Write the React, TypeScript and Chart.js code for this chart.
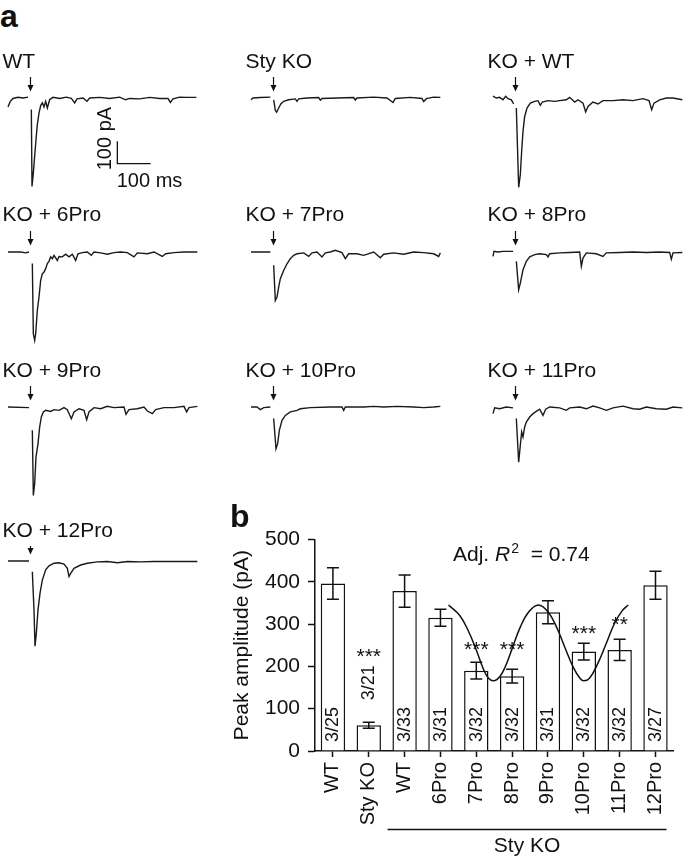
import React, { useEffect, useRef } from "react";
import { Chart, registerables } from "chart.js";
Chart.register(...registerables);

const FONT = "'Liberation Sans', Arial, Helvetica, sans-serif";
Chart.defaults.font.family = FONT;
Chart.defaults.color = "#111";

// ---------- Panel a: whole-cell currents (time in ms, current in pA; null = removed stimulus artifact)
const stimulusMs = 66;
const scaleBarMs = 328; // left end of the 100 ms / 100 pA scale bar (WT panel)
const scaleBarPa = -295; // corner current of the scale bar

const traceWT: [number, number | null][] = [
  [0, -40], [7, -15], [15, -2], [30, 3], [45, 0], [60, 4], [65, null],
  [70, -52], [72, -398], [76, -338], [80, -262], [84, -188], [88, -120], [93, -68], [98, -34],
  [103, -22], [108, -40], [113, -15], [118, -45], [125, -8], [135, 3], [155, -2], [175, 4],
  [190, -2], [200, -22], [207, -4], [225, 0], [237, -15], [245, 0], [275, 3], [305, -2],
  [335, 4], [353, -8], [365, -2], [395, -4], [425, 3], [455, -2], [480, -2], [487, -20],
  [495, -4], [515, 4], [535, 3], [565, 3],
];
const traceStyKO: [number, number | null][] = [
  [0, -8], [6, 0], [28, 2], [58, 4], [63, null],
  [68, -8], [73, -56], [77, -64], [83, -45], [90, -26], [98, -15], [113, -8], [133, -4],
  [138, -15], [143, -4], [168, 0], [203, 2], [208, -10], [213, -2], [258, 0], [308, 2],
  [313, -9], [318, 0], [368, 4], [408, 0], [426, -20], [433, -2], [478, 3], [513, -2],
  [518, -16], [526, -3], [548, 4], [568, 3],
];
const traceKOWT: [number, number | null][] = [
  [0, 8], [10, 0], [20, 3], [30, -8], [38, 8], [45, -3], [55, -8], [62, -26], [66, null],
  [70, -45], [77, -402], [82, -345], [86, -240], [90, -150], [95, -83], [102, -45], [112, -23],
  [125, -15], [135, -12], [142, -33], [148, -18], [165, -12], [185, -15], [200, -12], [220, -8],
  [230, 3], [245, -18], [255, -8], [270, -23], [278, -63], [285, -38], [300, -18], [315, -27],
  [330, -12], [360, -12], [390, -8], [420, -12], [450, -3], [468, -12], [476, -53], [483, -23],
  [500, -8], [520, 0], [540, 0], [568, -8],
];
const trace6Pro: [number, number | null][] = [
  [0, 0], [38, 0], [53, -4], [63, 0], [68, null],
  [73, -52], [76, -368], [80, -398], [83, -368], [88, -262], [93, -202], [98, -128], [103, -98],
  [108, -90], [113, -75], [118, -52], [123, -42], [128, -22], [133, -30], [138, -15], [148, -38],
  [153, -20], [163, -22], [173, -10], [183, -22], [193, -10], [203, -38], [210, -8], [223, -3],
  [238, 0], [250, -15], [258, 0], [278, -4], [298, -10], [318, -3], [338, 0], [358, -3],
  [378, -22], [388, -4], [418, -8], [438, 0], [463, -20], [473, -8], [498, -3], [528, 0], [568, 0],
];
const trace7Pro: [number, number | null][] = [
  [0, 0], [58, 0], [63, null],
  [68, -60], [73, -218], [78, -203], [83, -158], [88, -120], [98, -83], [108, -53], [118, -30],
  [128, -15], [138, -8], [158, -4], [173, -20], [183, -4], [198, 0], [213, -22], [223, -4],
  [238, 0], [253, 8], [273, -3], [283, -30], [293, -8], [318, -8], [338, -15], [368, 0],
  [388, -26], [398, -10], [428, -4], [458, -10], [488, 0], [518, -3], [548, -8], [563, -20], [568, -4],
];
const trace8Pro: [number, number | null][] = [
  [0, -20], [3, 3], [15, 0], [30, 3], [60, 3], [65, null],
  [70, -42], [77, -170], [82, -140], [90, -80], [100, -42], [110, -22], [125, -12], [140, -8],
  [160, -12], [165, -22], [170, -8], [200, -4], [230, -2], [260, 0], [265, -64], [270, -27],
  [280, -4], [310, -8], [330, -20], [340, -4], [380, -2], [420, 0], [460, -2], [500, 0],
  [530, -2], [535, -32], [540, -4], [568, -2],
];
const trace9Pro: [number, number | null][] = [
  [0, 0], [63, -3], [68, null],
  [73, -105], [76, -398], [80, -345], [84, -225], [90, -165], [95, -90], [100, -45], [106, -22],
  [113, -15], [128, -20], [138, -12], [153, -15], [168, -3], [178, -12], [190, -53], [198, -22],
  [213, -8], [228, -15], [236, -57], [243, -22], [258, -3], [278, -8], [298, 3], [318, -3],
  [348, 0], [354, -33], [363, -12], [388, -8], [408, 0], [418, -18], [433, -30], [443, -12],
  [468, -3], [498, -3], [528, 3], [536, -22], [543, -3], [568, 3],
];
const trace10Pro: [number, number | null][] = [
  [0, 0], [18, 0], [28, -12], [38, -3], [58, 0], [63, null],
  [68, -52], [75, -188], [80, -165], [85, -105], [93, -60], [103, -38], [118, -22], [138, -15],
  [148, -8], [178, -3], [238, 0], [273, 0], [278, -15], [283, 0], [338, 0], [368, 3],
  [398, 0], [438, 3], [488, 0], [518, -3], [548, 0], [568, 3],
];
const trace11Pro: [number, number | null][] = [
  [0, -30], [5, -4], [20, -8], [40, 0], [60, -4], [65, null],
  [70, -52], [77, -248], [82, -172], [86, -112], [90, -135], [95, -90], [100, -68], [110, -45],
  [120, -30], [130, -20], [140, -10], [150, -38], [158, -10], [170, 0], [200, -4], [220, -15],
  [230, -4], [260, 0], [280, -8], [300, 4], [320, -4], [340, -15], [360, -4], [390, 4],
  [420, -8], [440, -10], [460, 0], [490, -8], [520, -10], [540, 0], [568, -4],
];
const trace12Pro: [number, number | null][] = [
  [0, 0], [63, 0], [68, null],
  [73, -48], [78, -220], [81, -383], [85, -326], [90, -220], [96, -146], [103, -86], [113, -40],
  [123, -22], [138, -10], [153, -8], [168, -14], [178, -33], [183, -70], [188, -56], [198, -33],
  [218, -18], [238, -10], [268, -4], [298, -2], [328, -8], [358, -2], [398, -4], [438, -2],
  [498, -2], [568, -2],
];

const traceLabels = [
  "WT", "Sty KO", "KO + WT",
  "KO + 6Pro", "KO + 7Pro", "KO + 8Pro",
  "KO + 9Pro", "KO + 10Pro", "KO + 11Pro",
  "KO + 12Pro",
];
const traceData = [
  traceWT, traceStyKO, traceKOWT,
  trace6Pro, trace7Pro, trace8Pro,
  trace9Pro, trace10Pro, trace11Pro,
  trace12Pro,
];

// ---------- Panel b: peak amplitude bars
const barCategories = ["WT", "Sty KO", "WT", "6Pro", "7Pro", "8Pro", "9Pro", "10Pro", "11Pro", "12Pro"];
const peakMean = [396, 61, 378, 315, 190, 177, 328, 235, 239, 392];
const peakSem = [37, 7, 38, 20, 20, 16, 27, 20, 25, 33];
const nLabels = ["3/25", "3/21", "3/33", "3/31", "3/32", "3/32", "3/31", "3/32", "3/32", "3/27"];
const sigMarks = ["", "***", "", "", "***", "***", "", "***", "**", ""];
const sigLevel = [0, 236, 0, 0, 253, 253, 0, 291, 313, 0];
const yTicks = [0, 100, 200, 300, 400, 500];
// fitted periodic curve (category position, pA)
const fitPos = [2.97, 3.34, 3.62, 3.9, 4.13, 4.31, 4.5, 4.69, 4.87, 5.1, 5.38, 5.66, 5.98, 6.3, 6.58, 6.86, 7.14, 7.37, 7.5, 7.69, 7.97, 8.25, 8.53, 8.8, 8.99];
const fitPa = [345, 321, 286, 239, 195, 172, 166, 176, 199, 242, 294, 329, 345, 329, 294, 246, 199, 172, 166, 172, 207, 254, 302, 333, 345];

// layout of panel a
const colStart = [8, 251, 493];
const rowBase = [98, 252, 407, 561];
const rowLabelGap = [30, 31, 30, 24];
const rowArrowTop = [21, 21, 21, 15];

function TraceChart({ idx }: { idx: number }) {
  const ref = useRef<HTMLCanvasElement>(null);
  const col = idx === 9 ? 0 : idx % 3;
  const row = idx === 9 ? 3 : Math.floor(idx / 3);
  const left = colStart[col] - 8;
  const top = rowBase[row] - 60;
  useEffect(() => {
    const label = traceLabels[idx];
    const plugin = {
      id: "traceDecor",
      afterDraw(chart: any) {
        const ctx = chart.ctx;
        const xs = chart.scales.x;
        const ys = chart.scales.y;
        const y0 = ys.getPixelForValue(0);
        ctx.save();
        ctx.fillStyle = "#111";
        ctx.strokeStyle = "#111";
        ctx.font = `21px ${FONT}`;
        ctx.textAlign = "left";
        ctx.textBaseline = "alphabetic";
        ctx.fillText(label, 2.5, y0 - rowLabelGap[row]);
        const ax = Math.round(xs.getPixelForValue(stimulusMs)) + 0.5;
        const at = rowArrowTop[row];
        ctx.lineWidth = 1.2;
        ctx.beginPath();
        ctx.moveTo(ax, y0 - at);
        ctx.lineTo(ax, y0 - 12);
        ctx.stroke();
        ctx.beginPath();
        ctx.moveTo(ax - 3, y0 - 13);
        ctx.lineTo(ax + 3, y0 - 13);
        ctx.lineTo(ax, y0 - 6.5);
        ctx.closePath();
        ctx.fill();
        if (idx === 0) {
          const sx = xs.getPixelForValue(scaleBarMs);
          const sx2 = xs.getPixelForValue(scaleBarMs + 100);
          const sTop = ys.getPixelForValue(scaleBarPa + 100);
          const sBot = ys.getPixelForValue(scaleBarPa);
          ctx.lineWidth = 1.3;
          ctx.beginPath();
          ctx.moveTo(sx, sTop);
          ctx.lineTo(sx, sBot);
          ctx.lineTo(sx2, sBot);
          ctx.stroke();
          ctx.font = `20px ${FONT}`;
          ctx.fillText("100 ms", sx - 0.6, sBot + 23.4);
          ctx.save();
          ctx.translate(sx - 6.8, sBot + 6.7);
          ctx.rotate(-Math.PI / 2);
          ctx.fillText("100 pA", 0, 0);
          ctx.restore();
        }
        ctx.restore();
      },
    };
    const chart = new Chart(ref.current as HTMLCanvasElement, {
      type: "line",
      data: {
        datasets: [
          {
            data: traceData[idx].map(([x, y]) => ({ x, y })) as any,
            borderColor: "#1a1a1a",
            borderWidth: 1.4,
            pointRadius: 0,
            tension: 0,
            spanGaps: false,
            fill: false,
          },
        ],
      },
      options: {
        responsive: false,
        maintainAspectRatio: false,
        animation: false,
        layout: { padding: 0 },
        plugins: { legend: { display: false }, tooltip: { enabled: false } },
        scales: {
          x: { type: "linear", display: false, min: -24, max: 576 },
          y: { type: "linear", display: false, min: -450, max: 270 },
        },
      },
      plugins: [plugin],
    });
    return () => chart.destroy();
  }, []);
  return (
    <canvas
      ref={ref}
      width={200}
      height={160}
      style={{ position: "absolute", left, top, width: 200, height: 160 }}
    />
  );
}

function BarPanel() {
  const ref = useRef<HTMLCanvasElement>(null);
  useEffect(() => {
    const decor = {
      id: "barDecor",
      afterDraw(chart: any) {
        const ctx = chart.ctx;
        const xs = chart.scales.x;
        const ys = chart.scales.y;
        ctx.save();
        ctx.strokeStyle = "#111";
        ctx.fillStyle = "#111";
        ctx.lineWidth = 1.5;
        peakMean.forEach((m, i) => {
          const cx = xs.getPixelForValue(i);
          const yt = ys.getPixelForValue(m + peakSem[i]);
          const yb = ys.getPixelForValue(m - peakSem[i]);
          ctx.beginPath();
          ctx.moveTo(cx, yt);
          ctx.lineTo(cx, yb);
          ctx.moveTo(cx - 6, yt);
          ctx.lineTo(cx + 6, yt);
          ctx.moveTo(cx - 6, yb);
          ctx.lineTo(cx + 6, yb);
          ctx.stroke();
          // n label, rotated
          ctx.save();
          ctx.font = `18px ${FONT}`;
          const start = m < 120 ? yt - 22 : ys.getPixelForValue(0) - 9;
          ctx.translate(cx + 0.5, start);
          ctx.rotate(-Math.PI / 2);
          ctx.textAlign = "left";
          ctx.textBaseline = "middle";
          ctx.fillText(nLabels[i], 0, 0);
          ctx.restore();
          if (sigMarks[i]) {
            ctx.font = `21px ${FONT}`;
            ctx.textAlign = "center";
            ctx.textBaseline = "alphabetic";
            ctx.fillText(sigMarks[i], cx, ys.getPixelForValue(sigLevel[i]) + 12);
          }
        });
        // Adj. R2 text
        ctx.textAlign = "left";
        ctx.textBaseline = "alphabetic";
        let x = 253;
        const by = 71;
        ctx.font = `21px ${FONT}`;
        ctx.fillText("Adj. ", x, by);
        x += ctx.measureText("Adj. ").width;
        ctx.font = `italic 21px ${FONT}`;
        ctx.fillText("R", x, by);
        x += ctx.measureText("R").width + 1;
        ctx.font = `14px ${FONT}`;
        ctx.fillText("2", x, by - 8);
        x += ctx.measureText("2").width;
        ctx.font = `21px ${FONT}`;
        ctx.fillText("  = 0.74", x, by);
        // group line
        const gx1 = xs.getPixelForValue(2) - 17;
        const gx2 = xs.getPixelForValue(9) + 11;
        ctx.beginPath();
        ctx.moveTo(gx1, 339.5);
        ctx.lineTo(gx2, 339.5);
        ctx.stroke();
        ctx.textAlign = "center";
        ctx.fillText("Sty KO", (gx1 + gx2) / 2, 361.5);
        // panel letter
        ctx.textAlign = "left";
        ctx.font = `bold 32px ${FONT}`;
        ctx.fillText("b", 30, 37);
        ctx.restore();
      },
    };
    const chart = new Chart(ref.current as HTMLCanvasElement, {
      type: "bar",
      data: {
        labels: barCategories,
        datasets: [
          {
            type: "bar",
            data: peakMean,
            backgroundColor: "#ffffff",
            borderColor: "#111",
            borderWidth: 1.5,
            categoryPercentage: 1,
            barPercentage: 0.68,
            grouped: false,
            order: 1,
          } as any,
          {
            type: "line",
            data: fitPos.map((p, i) => ({ x: p, y: fitPa[i] })) as any,
            xAxisID: "xFit",
            yAxisID: "y",
            borderColor: "#111",
            borderWidth: 1.5,
            pointRadius: 0,
            tension: 0.4,
            fill: false,
            order: 0,
          } as any,
        ],
      },
      options: {
        responsive: false,
        maintainAspectRatio: false,
        animation: false,
        layout: { padding: { left: 0, top: 49.5, right: 10, bottom: 0 } },
        plugins: { legend: { display: false }, tooltip: { enabled: false } },
        scales: {
          x: {
            type: "category",
            offset: true,
            grid: {
              display: true,
              drawOnChartArea: false,
              drawTicks: true,
              tickLength: 6,
              tickColor: "#111",
              tickWidth: 1.5,
              offset: false,
            },
            border: { display: true, color: "#111", width: 1.5 },
            ticks: {
              color: "#111",
              font: { size: 20 },
              minRotation: 90,
              maxRotation: 90,
              autoSkip: false,
              padding: 5,
            },
            afterFit: (s: any) => {
              s.height = 106;
            },
          },
          xFit: { type: "linear", display: false, min: -0.5, max: 9.5 },
          y: {
            type: "linear",
            min: 0,
            max: 500,
            afterBuildTicks: (s: any) => {
              s.ticks = yTicks.map((v) => ({ value: v }));
            },
            grid: {
              display: true,
              drawOnChartArea: false,
              tickLength: 7,
              tickColor: "#111",
              tickWidth: 1.5,
            },
            border: { display: true, color: "#111", width: 1.5 },
            ticks: { color: "#111", font: { size: 21 }, padding: 8 },
            title: {
              display: true,
              text: "Peak amplitude (pA)",
              color: "#111",
              font: { size: 21 },
              padding: { top: 30, bottom: 0 },
            },
            afterFit: (s: any) => {
              s.width = 115;
            },
          },
        },
      },
      plugins: [decor],
    });
    return () => chart.destroy();
  }, []);
  return (
    <canvas
      ref={ref}
      width={485}
      height={367}
      style={{ position: "absolute", left: 200, top: 490, width: 485, height: 367 }}
    />
  );
}

export default function App() {
  useEffect(() => {
    document.body.style.margin = "0";
  }, []);
  return (
    <div
      style={{
        position: "absolute",
        left: 0,
        top: 0,
        width: 685,
        height: 857,
        background: "#fff",
        overflow: "hidden",
        fontFamily: FONT,
        color: "#111",
      }}
    >
      <div
        style={{
          position: "absolute",
          left: 0,
          top: 0,
          fontWeight: "bold",
          fontSize: 32,
          lineHeight: "32px",
          fontFamily: FONT,
        }}
      >
        a
      </div>
      {traceLabels.map((_, i) => (
        <TraceChart key={i} idx={i} />
      ))}
      <BarPanel />
    </div>
  );
}
